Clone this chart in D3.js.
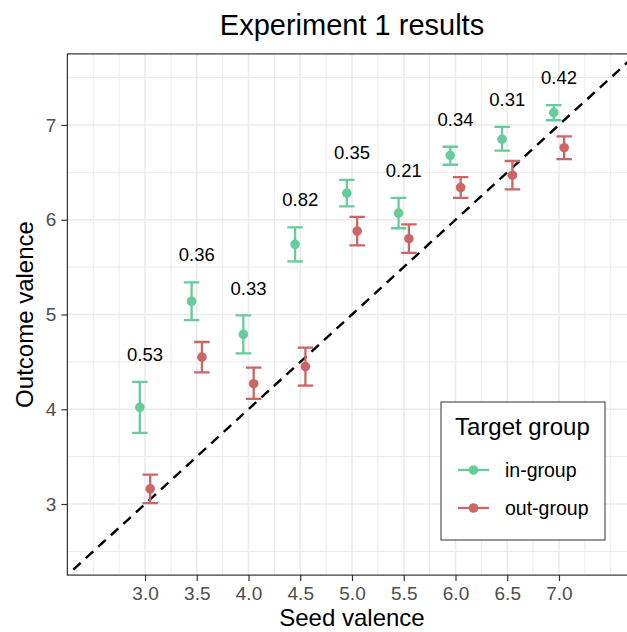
<html>
<head>
<style>
  body { margin: 0; background: #fff; }
  text { font-family: 'Liberation Sans', Arial, Helvetica, sans-serif; }
</style>
</head>
<body>
  <div id = 'chart'></div>
  <script src = 'https://cdn.jsdelivr.net/npm/d3@7/dist/d3.min.js'></script>
  <script>
    // seed valence categories and per-group summaries
    var seeds = [3.0, 3.5, 4.0, 4.5, 5.0, 5.5, 6.0, 6.5, 7.0];
    var inMean  = [4.02, 5.14, 4.79, 5.74, 6.28, 6.07, 6.68, 6.85, 7.13];
    var inLow   = [3.75, 4.94, 4.59, 5.56, 6.14, 5.91, 6.58, 6.73, 7.05];
    var inHigh  = [4.29, 5.34, 4.99, 5.92, 6.42, 6.23, 6.77, 6.98, 7.21];
    var outMean = [3.16, 4.55, 4.27, 4.45, 5.88, 5.80, 6.34, 6.47, 6.76];
    var outLow  = [3.01, 4.39, 4.11, 4.25, 5.73, 5.65, 6.23, 6.32, 6.64];
    var outHigh = [3.31, 4.71, 4.44, 4.65, 6.03, 5.95, 6.45, 6.62, 6.88];
    var diffLabels = ['0.53', '0.36', '0.33', '0.82', '0.35', '0.21', '0.34', '0.31', '0.42'];
    var groups = ['in-group', 'out-group'];
    var xTicks = [3.0, 3.5, 4.0, 4.5, 5.0, 5.5, 6.0, 6.5, 7.0];
    var yTicks = [3, 4, 5, 6, 7];

    var svgWidth = 627,
        svgHeight = 632,
        dodge = 0.05,
        capHalf = 0.075,
        labelGap = 0.29;

    var color = d3.scaleOrdinal().domain(groups).range(['#66CC99', '#CC6666']);

    var x = d3.scaleLinear().domain([2.25, 7.75]).range([67.4, 636.6]);
    var y = d3.scaleLinear().domain([2.25, 7.75]).range([575.1, 53.9]);

    var rows = [];
    seeds.forEach(function(s, i){
      rows.push({group: 'in-group', seed: s, mean: inMean[i], low: inLow[i], high: inHigh[i], off: -dodge});
      rows.push({group: 'out-group', seed: s, mean: outMean[i], low: outLow[i], high: outHigh[i], off: dodge});
    });

    var svg = d3.select('#chart').append('svg')
      .attr('width', svgWidth)
      .attr('height', svgHeight);

    var x0 = x.range()[0], x1 = x.range()[1], y0 = y.range()[0], y1 = y.range()[1];

    svg.append('clipPath').attr('id', 'panel')
      .append('rect').attr('x', x0).attr('y', y1).attr('width', x1 - x0).attr('height', y0 - y1);

    var panel = svg.append('g').attr('clip-path', 'url(#panel)');

    // minor grid
    var xMinor = d3.range(2.5, 7.51, 0.25).filter(function(v){ return xTicks.indexOf(v) < 0; });
    var yMinor = d3.range(2.5, 7.51, 1);
    panel.selectAll('.xminor').data(xMinor).enter().append('line')
      .attr('x1', function(d){ return x(d); }).attr('x2', function(d){ return x(d); })
      .attr('y1', y0).attr('y2', y1)
      .attr('stroke', '#EBEBEB').attr('stroke-width', 1);
    panel.selectAll('.yminor').data(yMinor).enter().append('line')
      .attr('y1', function(d){ return y(d); }).attr('y2', function(d){ return y(d); })
      .attr('x1', x0).attr('x2', x1)
      .attr('stroke', '#EBEBEB').attr('stroke-width', 1);
    // major grid
    panel.selectAll('.xmajor').data(xTicks).enter().append('line')
      .attr('x1', function(d){ return x(d); }).attr('x2', function(d){ return x(d); })
      .attr('y1', y0).attr('y2', y1)
      .attr('stroke', '#EBEBEB').attr('stroke-width', 1.6);
    panel.selectAll('.ymajor').data(yTicks).enter().append('line')
      .attr('y1', function(d){ return y(d); }).attr('y2', function(d){ return y(d); })
      .attr('x1', x0).attr('x2', x1)
      .attr('stroke', '#EBEBEB').attr('stroke-width', 1.6);

    // identity line
    panel.append('line')
      .attr('x1', x(2.25)).attr('y1', y(2.25))
      .attr('x2', x(7.75)).attr('y2', y(7.75))
      .attr('stroke', 'black').attr('stroke-width', 2.4)
      .attr('stroke-dasharray', '10,7')
      .attr('stroke-dashoffset', -8);

    // error bars
    var bars = panel.selectAll('.bar').data(rows).enter().append('g')
      .attr('stroke', function(d){ return color(d.group); })
      .attr('stroke-width', 2.3);
    bars.append('line')
      .attr('x1', function(d){ return x(d.seed + d.off); })
      .attr('x2', function(d){ return x(d.seed + d.off); })
      .attr('y1', function(d){ return y(d.low); })
      .attr('y2', function(d){ return y(d.high); });
    bars.append('line')
      .attr('x1', function(d){ return x(d.seed + d.off - capHalf); })
      .attr('x2', function(d){ return x(d.seed + d.off + capHalf); })
      .attr('y1', function(d){ return y(d.low); })
      .attr('y2', function(d){ return y(d.low); });
    bars.append('line')
      .attr('x1', function(d){ return x(d.seed + d.off - capHalf); })
      .attr('x2', function(d){ return x(d.seed + d.off + capHalf); })
      .attr('y1', function(d){ return y(d.high); })
      .attr('y2', function(d){ return y(d.high); });

    panel.selectAll('.pt').data(rows).enter().append('circle')
      .attr('cx', function(d){ return x(d.seed + d.off); })
      .attr('cy', function(d){ return y(d.mean); })
      .attr('r', 4.8)
      .attr('fill', function(d){ return color(d.group); });

    // difference labels
    panel.selectAll('.lab').data(seeds).enter().append('text')
      .attr('x', function(d){ return x(d); })
      .attr('y', function(d, i){ return y(inHigh[i] + labelGap); })
      .attr('dy', '0.36em')
      .attr('text-anchor', 'middle')
      .attr('font-size', 18.5)
      .attr('fill', 'black')
      .text(function(d, i){ return diffLabels[i]; });

    // panel border
    svg.append('rect')
      .attr('x', x0).attr('y', y1).attr('width', x1 - x0).attr('height', y0 - y1)
      .attr('fill', 'none').attr('stroke', '#333333').attr('stroke-width', 1.2);

    // axes
    var xAxis = svg.append('g').attr('transform', 'translate(0,' + y0 + ')')
      .call(d3.axisBottom(x).tickValues(xTicks).tickFormat(d3.format('.1f')).tickSize(6).tickPadding(5));
    var yAxis = svg.append('g').attr('transform', 'translate(' + x0 + ',0)')
      .call(d3.axisLeft(y).tickValues(yTicks).tickFormat(d3.format('d')).tickSize(6).tickPadding(5));
    [xAxis, yAxis].forEach(function(a){
      a.select('.domain').remove();
      a.selectAll('.tick line').attr('stroke', '#333333').attr('stroke-width', 1.2);
      a.selectAll('.tick text').attr('fill', '#4D4D4D').attr('font-size', 19)
        .attr('font-family', "'Liberation Sans', Arial, sans-serif");
    });

    // titles
    svg.append('text')
      .attr('x', (x0 + x1) / 2).attr('y', 35)
      .attr('text-anchor', 'middle').attr('font-size', 29)
      .text('Experiment 1 results');
    svg.append('text')
      .attr('x', (x0 + x1) / 2).attr('y', 626)
      .attr('text-anchor', 'middle').attr('font-size', 24)
      .text('Seed valence');
    svg.append('text')
      .attr('transform', 'translate(33,' + ((y0 + y1) / 2) + ') rotate(-90)')
      .attr('text-anchor', 'middle').attr('font-size', 24)
      .text('Outcome valence');

    // legend
    var legend = svg.append('g').attr('transform', 'translate(441,402)');
    legend.append('rect')
      .attr('width', 164).attr('height', 138)
      .attr('fill', 'white').attr('stroke', '#333333').attr('stroke-width', 1);
    legend.append('text')
      .attr('x', 14).attr('y', 33)
      .attr('font-size', 24)
      .text('Target group');
    var keys = legend.selectAll('.key').data(groups).enter().append('g')
      .attr('transform', function(d, i){ return 'translate(0,' + (68 + i * 38) + ')'; });
    keys.append('line')
      .attr('x1', 17).attr('x2', 48)
      .attr('stroke', function(d){ return color(d); }).attr('stroke-width', 2.3);
    keys.append('circle')
      .attr('cx', 32.5).attr('r', 4.8)
      .attr('fill', function(d){ return color(d); });
    keys.append('text')
      .attr('x', 64).attr('dy', '0.36em')
      .attr('font-size', 19.5)
      .text(function(d){ return d; });
  </script>
</body>
</html>
